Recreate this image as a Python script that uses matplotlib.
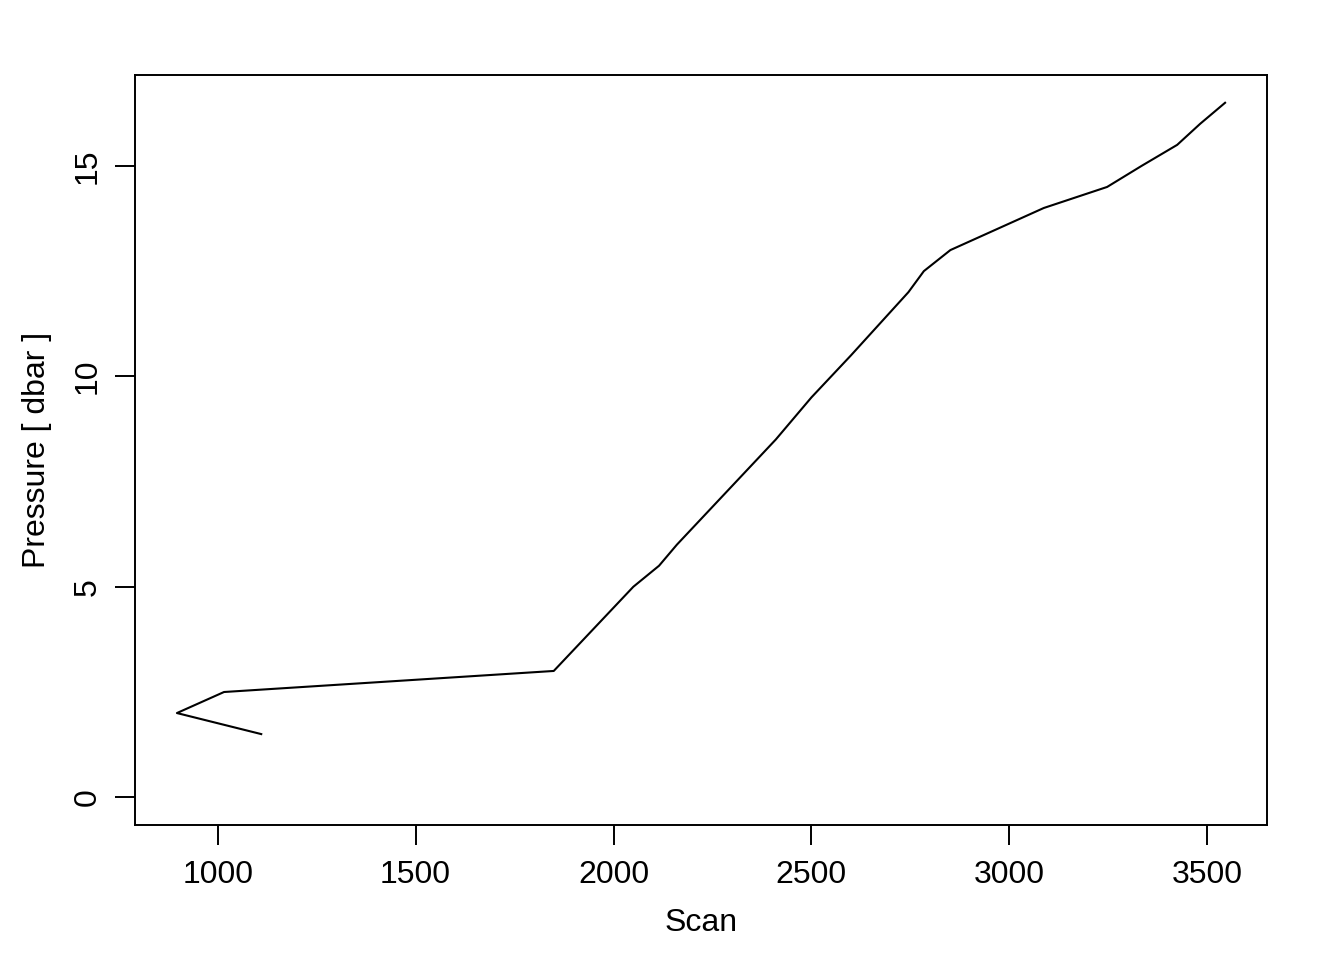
import matplotlib
matplotlib.use("Agg")
import matplotlib.pyplot as plt

scan = [1110, 897, 1016, 1849, 2050, 2115, 2160, 2410, 2500, 2600, 2745, 2784, 2851, 3087, 3247, 3334, 3424, 3482, 3545]
pressure = [1.5, 2.0, 2.5, 3.0, 5.0, 5.5, 6.0, 8.5, 9.5, 10.5, 12.0, 12.5, 13.0, 14.0, 14.5, 15.0, 15.5, 16.0, 16.5]
xticks = [1000, 1500, 2000, 2500, 3000, 3500]
yticks = [0, 5, 10, 15]

plt.rcParams['font.family'] = ['Liberation Sans', 'DejaVu Sans']
fig = plt.figure(figsize=(13.44, 9.6), dpi=100)
ax = fig.add_axes([135/1344, 1-825/960, (1267-135)/1344, (825-75)/960])
ax.plot(scan, pressure, color='black', lw=1.5)

xr = max(scan) - min(scan)
ax.set_xlim(min(scan) - 0.04*xr, max(scan) + 0.04*xr)
ymin = min(0, min(pressure)); ymax = max(pressure)
yr = ymax - ymin
ax.set_ylim(ymin - 0.04*yr, ymax + 0.04*yr)

fs = 23
ax.set_xticks(xticks)
ax.set_yticks(yticks)
ax.set_xticklabels([str(v) for v in xticks], fontsize=fs)
ax.set_yticklabels([str(v) for v in yticks], fontsize=fs, rotation=90, va='center')
ax.tick_params(axis='x', length=14.4, width=1.4, pad=11)
ax.tick_params(axis='y', length=14.4, width=1.4, pad=9)
for s in ax.spines.values():
    s.set_linewidth(1.4)
ax.set_xlabel('Scan', fontsize=fs, labelpad=13)
ax.set_ylabel('Pressure [ dbar ]', fontsize=fs, labelpad=15)

fig.savefig('out.png', dpi=100)
